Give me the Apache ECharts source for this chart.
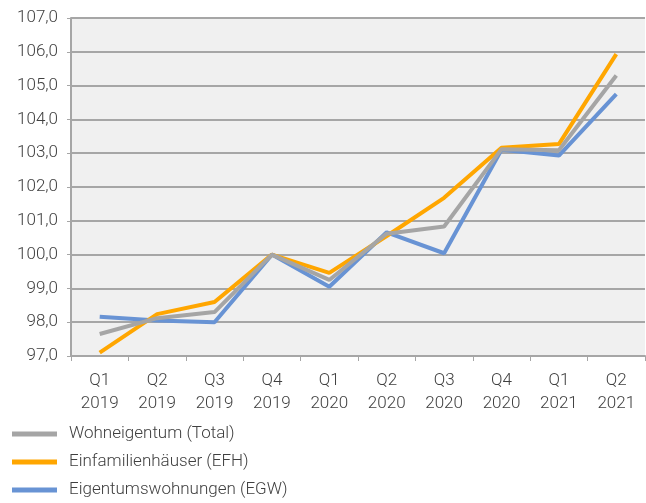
<!DOCTYPE html>
<html>
<head>
<meta charset="utf-8">
<script src="https://cdn.jsdelivr.net/npm/echarts@6/dist/echarts.min.js"></script>
<style>
  html, body { margin: 0; padding: 0; background: #fff; }
  #main { width: 646px; height: 503px; }
</style>
</head>
<body>
<div id="main"></div>
<script>
// Preisindex Wohneigentum, Quartale 2019-2021
var categories = ['Q1\n2019', 'Q2\n2019', 'Q3\n2019', 'Q4\n2019', 'Q1\n2020',
                  'Q2\n2020', 'Q3\n2020', 'Q4\n2020', 'Q1\n2021', 'Q2\n2021'];
var totalData = [97.65, 98.12, 98.30, 100.0, 99.25, 100.62, 100.83, 103.12, 103.09, 105.30];
var efhData   = [97.10, 98.24, 98.60, 100.0, 99.46, 100.55, 101.68, 103.16, 103.27, 105.93];
var egwData   = [98.16, 98.05, 98.00, 100.0, 99.05, 100.66, 100.04, 103.10, 102.93, 104.75];
var seriesNames = ['Wohneigentum (Total)', 'Einfamilienhäuser (EFH)', 'Eigentumswohnungen (EGW)'];

var myChart = echarts.init(document.getElementById('main'));
var fontName = 'Roboto';
var textColor = '#404040';

var option = {
    color : [ '#a5a5a5', '#ffa600', '#6893d4' ],
    animation : false,
    grid : {
	left : 71,
	top : 18,
	right : 1,
	bottom : 147,
	show : true,
	backgroundColor : '#f0f0f0',
	borderWidth : 0
    },
    legend : {
	orient : 'vertical',
	left : 12,
	top : 424,
	padding : 0,
	itemWidth : 45,
	itemHeight : 5,
	itemGap : 8,
	icon : 'rect',
	textStyle : {
	    fontFamily : fontName,
	    fontWeight : 300,
	    fontSize : 17,
	    lineHeight : 20,
	    color : textColor,
	    padding : [ 0, 0, 0, 7 ]
	},
	data : seriesNames
    },
    xAxis : {
	type : 'category',
	data : categories,
	boundaryGap : true,
	axisLine : { lineStyle : { color : '#a6a6a6', width : 2 } },
	axisTick : { show : true, length : 5, lineStyle : { color : '#a6a6a6', width : 1 } },
	axisLabel : {
	    interval : 0,
	    margin : 13,
	    fontFamily : fontName,
	    fontWeight : 300,
	    fontSize : 17,
	    lineHeight : 23,
	    color : textColor
	}
    },
    yAxis : {
	type : 'value',
	min : 97,
	max : 107,
	interval : 1,
	axisLine : { show : true, lineStyle : { color : '#a6a6a6', width : 2 } },
	axisTick : { show : true, length : 4, lineStyle : { color : '#a6a6a6', width : 1 } },
	splitLine : { lineStyle : { color : '#a6a6a6', width : 2 } },
	axisLabel : {
	    margin : 13,
	    fontFamily : fontName,
	    fontWeight : 300,
	    fontSize : 17,
	    color : textColor,
	    formatter : function (v) { return v.toFixed(1).replace('.', ','); }
	}
    },
    series : [ {
	name : seriesNames[0],
	type : 'line',
	symbol : 'none',
	lineStyle : { width : 4 },
	z : 3,
	data : totalData
    }, {
	name : seriesNames[1],
	type : 'line',
	symbol : 'none',
	lineStyle : { width : 4 },
	z : 2,
	data : efhData
    }, {
	name : seriesNames[2],
	type : 'line',
	symbol : 'none',
	lineStyle : { width : 4 },
	z : 1,
	data : egwData
    } ]
};
myChart.setOption(option);
</script>
</body>
</html>
